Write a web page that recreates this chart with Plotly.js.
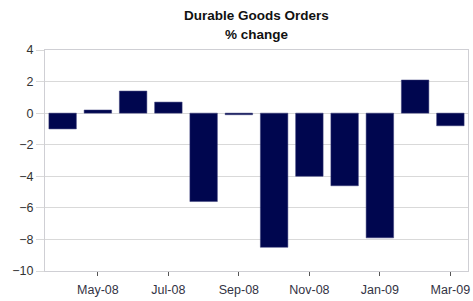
<!DOCTYPE html>
<html>
<head>
<meta charset="utf-8">
<script src="https://cdn.plot.ly/plotly-3.0.1.min.js"></script>
<style>html,body{margin:0;padding:0;background:#fff;}#chart{width:473px;height:301px;}</style>
</head>
<body>
<div id="chart"></div>
<script>
var months = ['Apr-08','May-08','Jun-08','Jul-08','Aug-08','Sep-08','Oct-08','Nov-08','Dec-08','Jan-09','Feb-09','Mar-09'];
var pctChange = [-1.0, 0.2, 1.4, 0.7, -5.6, -0.1, -8.5, -4.0, -4.6, -7.9, 2.1, -0.8];
var tickLabels = ['May-08','Jul-08','Sep-08','Nov-08','Jan-09','Mar-09'];
var yTicks = [-10, -8, -6, -4, -2, 0, 2, 4];
var titleLines = ['Durable Goods Orders', '% change'];

var trace = {
  type: 'bar',
  x: months,
  y: pctChange,
  marker: {color: '#00064f', line: {color: '#3a3f7a', width: 0.5}},
  hoverinfo: 'x+y'
};

var titleFont = {family: 'Liberation Sans, Arial, sans-serif', size: 13.5, color: '#111111'};

var layout = {
  width: 473, height: 301,
  margin: {l: 45, r: 5, t: 50, b: 30},
  paper_bgcolor: '#ffffff',
  plot_bgcolor: '#ffffff',
  bargap: 0.22,
  showlegend: false,
  font: {family: 'Liberation Sans, Arial, sans-serif', size: 12.5, color: '#333333'},
  annotations: [
    {text: '<b>' + titleLines[0] + '</b>', xref: 'paper', yref: 'paper', x: 0.5, y: 1.158,
     xanchor: 'center', yanchor: 'middle', showarrow: false, font: titleFont},
    {text: '<b>' + titleLines[1] + '</b>', xref: 'paper', yref: 'paper', x: 0.5, y: 1.072,
     xanchor: 'center', yanchor: 'middle', showarrow: false, font: titleFont}
  ],
  xaxis: {
    type: 'category',
    tickmode: 'array',
    tickvals: tickLabels,
    ticktext: tickLabels,
    ticks: 'outside', ticklen: 4, tickcolor: '#555555', tickwidth: 1,
    ticklabelstandoff: 3,
    showgrid: false,
    showline: true, linecolor: '#cfcfd4', linewidth: 1, mirror: true,
    tickfont: {size: 12.5, color: '#333344'},
    zeroline: false
  },
  yaxis: {
    range: [-10, 4],
    tickmode: 'array',
    tickvals: yTicks,
    ticks: 'outside', ticklen: 8, tickcolor: '#d9d9d9',
    showgrid: true, gridcolor: '#d9d9d9', gridwidth: 1,
    showline: true, linecolor: '#cfcfd4', linewidth: 1, mirror: true,
    zeroline: false,
    tickfont: {size: 12.5, color: '#333333'}
  }
};

Plotly.newPlot('chart', [trace], layout, {displayModeBar: false, staticPlot: true});
</script>
</body>
</html>
